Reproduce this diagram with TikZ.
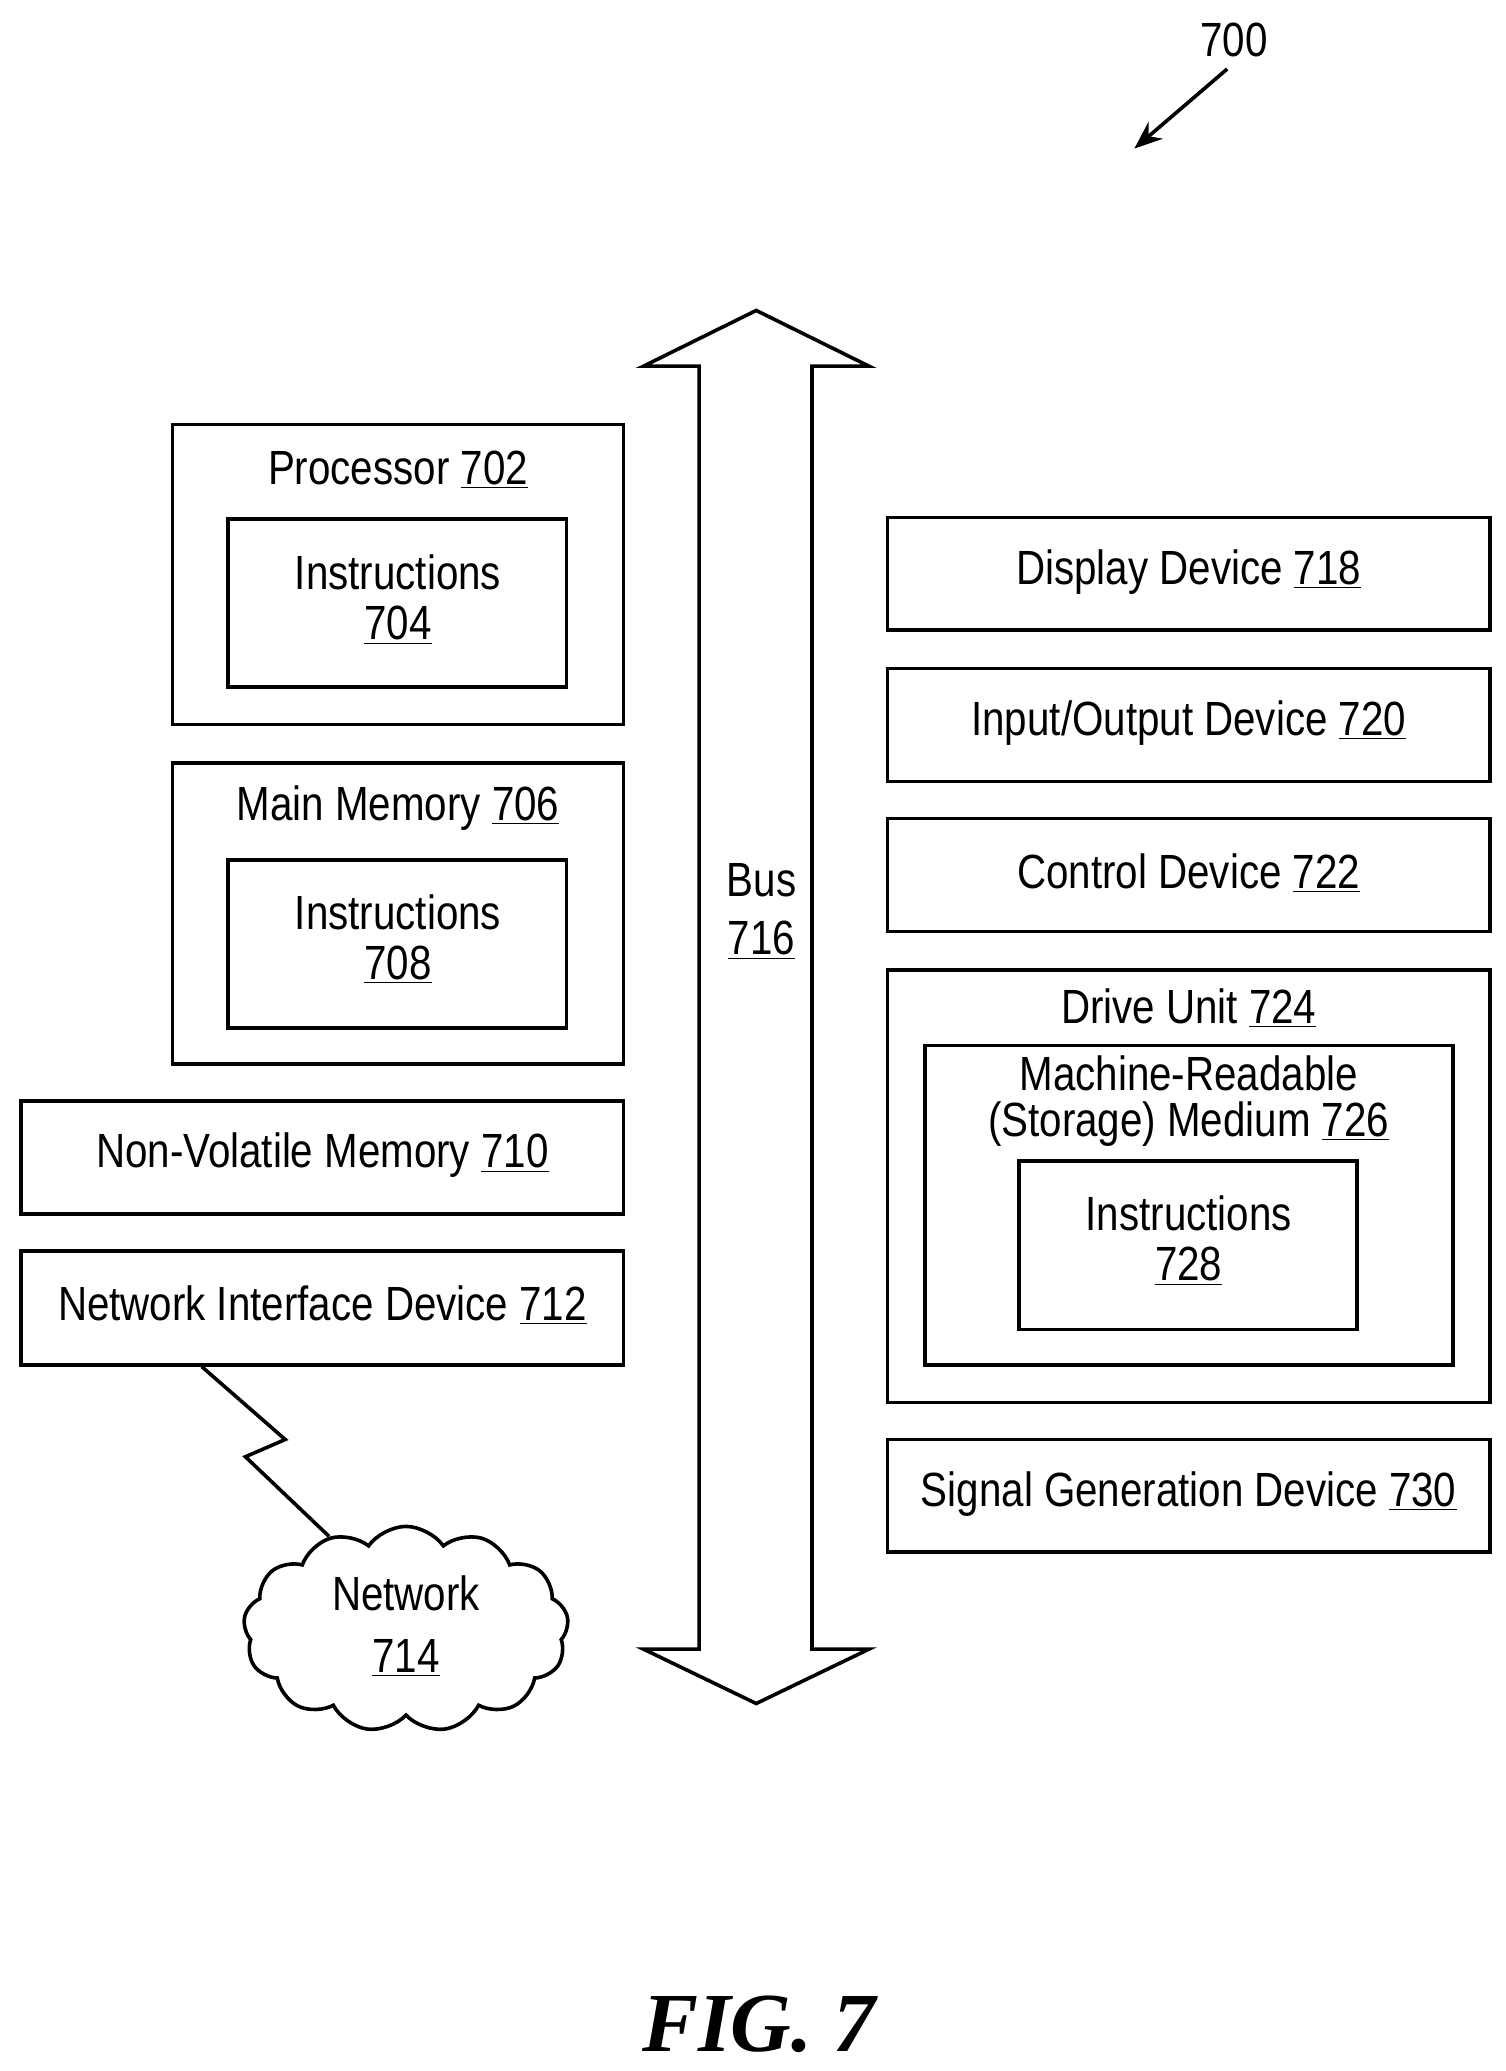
\documentclass[tikz,border=0pt]{standalone}
\usepackage{fontspec}
\setmainfont{Liberation Sans}[FakeStretch=0.84]
\newfontfamily\figfont{Liberation Serif}
\usetikzlibrary{shapes.symbols,arrows.meta}
\begin{document}
\begin{tikzpicture}[x=0.6635pt,y=-0.6635pt,
  box/.style={draw,line width=1.8pt},
  lab/.style={font=\fontsize{24}{27}\selectfont,align=center,inner sep=0pt}]
\useasboundingbox (0,0) rectangle (1135,1561);
% boxes
\draw[box] (130,320) rectangle (470,546);
\draw[box] (172,391) rectangle (427,518);
\draw[box] (130,575) rectangle (470,802);
\draw[box] (172,648) rectangle (427,775);
\draw[box] (16,830) rectangle (470,915);
\draw[box] (16,943) rectangle (470,1029);
\draw[box] (669,390) rectangle (1123,475);
\draw[box] (669,504) rectangle (1123,589);
\draw[box] (669,617) rectangle (1123,702);
\draw[box] (669,731) rectangle (1123,1057);
\draw[box] (697,788) rectangle (1095,1029);
\draw[box] (768,875) rectangle (1023,1002);
\draw[box] (669,1085) rectangle (1123,1170);
% labels
\node[lab] (p) at (300,354) {Processor \underline{702}};
\node[lab] (i1) at (300,452) {Instructions\\[-2pt]\underline{704}};
\node[lab] (mm) at (300,609) {Main Memory \underline{706}};
\node[lab] (i2) at (300,708) {Instructions\\[-2pt]\underline{708}};
\node[lab] (nv) at (243,871) {Non-Volatile Memory \underline{710}};
\node[lab] (ni) at (243,984) {Network Interface Device \underline{712}};
\node[lab] (dd) at (896,431) {Display Device \underline{718}};
\node[lab] (io) at (896,545) {Input/Output Device \underline{720}};
\node[lab] (cd) at (896,658) {Control Device \underline{722}};
\node[lab] (du) at (896,760) {Drive Unit \underline{724}};
\node[lab] (mr) at (896,830) {Machine-Readable\\[-4pt](Storage) Medium \underline{726}};
\node[lab] (i3) at (896,935) {Instructions\\[-2pt]\underline{728}};
\node[lab] (sg) at (896,1126) {Signal Generation Device \underline{730}};
% bus
\draw[line width=1.8pt,line join=miter] (527,276) -- (485,276) -- (570,234) -- (655,276) -- (612,276)
  -- (612,1243) -- (655,1243) -- (570,1284) -- (485,1243) -- (527,1243) -- cycle;
\node[lab] (bus) at (574,687) {Bus\\[2pt]\underline{716}};
% network cloud
\node[cloud,draw,line width=1.8pt,cloud puffs=13,cloud puff arc=110,aspect=1.5,
  minimum width=245*0.6635pt,minimum height=155*0.6635pt] (net) at (306,1228) {};
\node[lab] at (306,1226) {Network\\[4pt]\underline{714}};
\coordinate (zs) at (152,1030);
\coordinate (z1) at (215,1085);
\coordinate (z2) at (185,1098);
\coordinate (ze) at (248,1158);
\draw[line width=1.8pt] (zs) -- (z1) -- (z2) -- (ze);
% 700
\node[lab] (n700) at (930,30) {700};
\coordinate (a1) at (925,52);
\coordinate (a2) at (855,112);
\draw[line width=1.8pt,-{Stealth[length=14pt,width=11pt]}] (a1) -- (a2);
\node[font=\figfont\bfseries\itshape\fontsize{42}{46}\selectfont] (fig) at (572,1526) {FIG. 7};
\end{tikzpicture}
\end{document}
